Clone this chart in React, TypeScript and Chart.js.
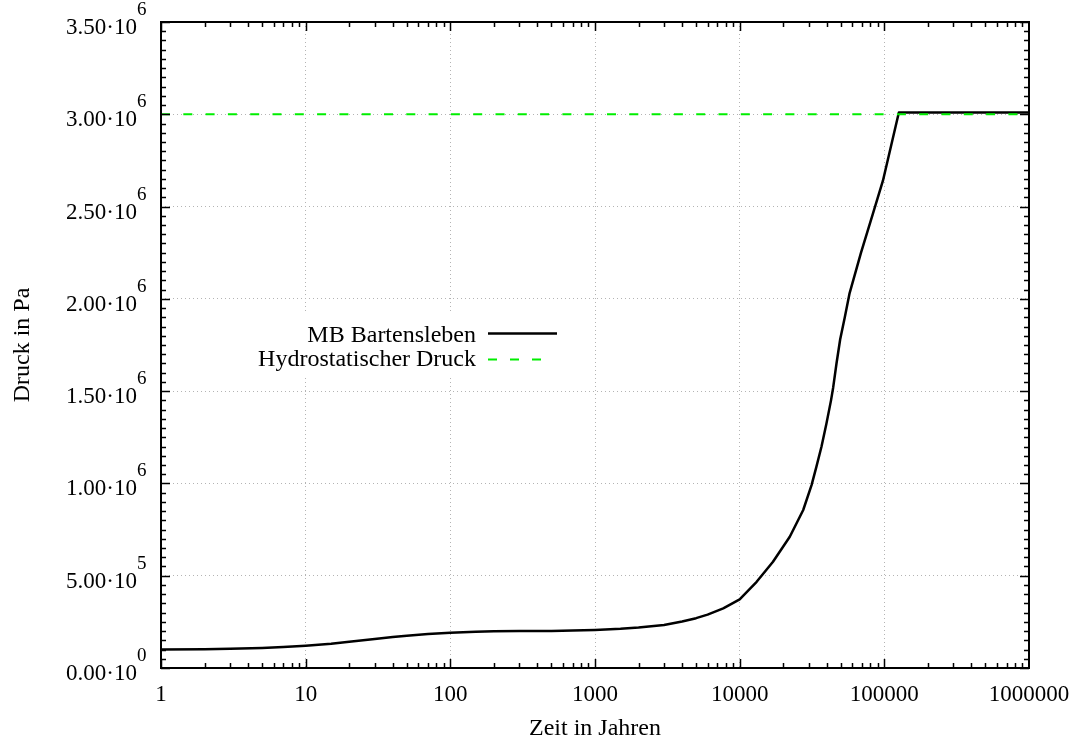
import React, { useEffect, useRef } from 'react';
import { Chart, registerables } from 'chart.js';

Chart.register(...registerables);

// Zeit in Jahren (years)
const years = [1, 2, 3, 5, 7, 10, 15, 20, 30, 40, 50, 70, 100, 150, 200, 300, 500, 700, 1000, 1500, 2000, 3000, 4000, 5000, 6000, 7700, 10000, 13100, 17000, 22200, 27500, 31400, 33900, 36800, 39800, 42800, 44300, 46700, 49500, 53300, 57500, 69000, 83300, 97800, 126000, 1000000];
// MB Bartensleben pressure (Pa)
const pressure = [1.0e5, 1.02e5, 1.04e5, 1.09e5, 1.14e5, 1.21e5, 1.32e5, 1.42e5, 1.57e5, 1.68e5, 1.75e5, 1.84e5, 1.91e5, 1.96e5, 1.99e5, 2.0e5, 2.01e5, 2.03e5, 2.06e5, 2.12e5, 2.19e5, 2.33e5, 2.52e5, 2.7e5, 2.89e5, 3.23e5, 3.72e5, 4.67e5, 5.76e5, 7.11e5, 8.56e5, 9.91e5, 1.09e6, 1.2e6, 1.325e6, 1.45e6, 1.52e6, 1.65e6, 1.78e6, 1.9e6, 2.03e6, 2.25e6, 2.46e6, 2.64e6, 3.01e6, 3.01e6];
// Hydrostatischer Druck
const hydroYears = [1, 1000000];
const hydroPressure = [3.0e6, 3.0e6];

const xTickValues = [1, 10, 100, 1000, 10000, 100000, 1000000];
const xTickLabels = ['1', '10', '100', '1000', '10000', '100000', '1000000'];
const yTickValues = [0, 5e5, 1e6, 1.5e6, 2e6, 2.5e6, 3e6, 3.5e6];
const yTickMantissa = ['0.00', '5.00', '1.00', '1.50', '2.00', '2.50', '3.00', '3.50'];
const yTickExponent = ['0', '5', '6', '6', '6', '6', '6', '6'];

const seriesNames = ['MB Bartensleben', 'Hydrostatischer Druck'];
const xTitle = 'Zeit in Jahren';
const yTitle = 'Druck in Pa';

const FONT = '"Liberation Serif", "Times New Roman", serif';
const GREEN = '#00ee00';

const gnuplotPlugin = {
  id: 'gnuplotFrame',
  beforeDatasetsDraw(chart: any) {
    const ctx = chart.ctx;
    ctx.save();
    ctx.fillStyle = '#ffffff';
    ctx.fillRect(250, 313, 315, 62);
    ctx.restore();
  },
  afterDraw(chart: any) {
    const ctx = chart.ctx as CanvasRenderingContext2D;
    const { left, right, top, bottom } = chart.chartArea;
    const xs = chart.scales.x;
    const ys = chart.scales.y;
    ctx.save();
    ctx.strokeStyle = '#000';
    ctx.lineWidth = 1.5;
    ctx.setLineDash([]);
    ctx.beginPath();
    for (let i = 0; i <= 70; i++) {
      const v = i * 5e4;
      const py = Math.round(ys.getPixelForValue(v)) + 0.5;
      const len = i % 10 === 0 ? 9 : 5;
      ctx.moveTo(left, py); ctx.lineTo(left + len, py);
      ctx.moveTo(right, py); ctx.lineTo(right - len, py);
    }
    for (let d = 1; d < 1e6; d *= 10) {
      for (let k = 1; k <= 9; k++) {
        const v = k * d;
        const px = Math.round(xs.getPixelForValue(v)) + 0.5;
        const len = k === 1 ? 9 : 5;
        ctx.moveTo(px, bottom); ctx.lineTo(px, bottom - len);
        ctx.moveTo(px, top); ctx.lineTo(px, top + len);
      }
    }
    ctx.stroke();
    ctx.lineWidth = 2;
    ctx.strokeRect(left, top, right - left, bottom - top);

    ctx.fillStyle = '#000';
    yTickValues.forEach((v, i) => {
      const py = ys.getPixelForValue(v);
      ctx.font = `23px ${FONT}`;
      ctx.textAlign = 'right';
      ctx.textBaseline = 'alphabetic';
      ctx.fillText(yTickMantissa[i] + '\u00b710', 137, py + 12);
      ctx.font = `19px ${FONT}`;
      ctx.textAlign = 'left';
      ctx.fillText(yTickExponent[i], 137, py - 7);
    });
    ctx.font = `23px ${FONT}`;
    ctx.textAlign = 'center';
    xTickValues.forEach((v, i) => {
      const px = xs.getPixelForValue(v);
      ctx.fillText(xTickLabels[i], px, bottom + 33);
    });
    ctx.font = `24px ${FONT}`;
    ctx.fillText(xTitle, (left + right) / 2, 735);
    ctx.save();
    ctx.translate(28.5, (top + bottom) / 2);
    ctx.rotate(-Math.PI / 2);
    ctx.fillText(yTitle, 0, 0);
    ctx.restore();

    ctx.textAlign = 'right';
    ctx.fillText(seriesNames[0], 476, 341.5);
    ctx.fillText(seriesNames[1], 476, 365.5);
    ctx.lineWidth = 2.5;
    ctx.strokeStyle = '#000';
    ctx.beginPath();
    ctx.moveTo(488, 333.5); ctx.lineTo(557, 333.5);
    ctx.stroke();
    ctx.lineWidth = 2;
    ctx.strokeStyle = GREEN;
    ctx.setLineDash([9, 13]);
    ctx.beginPath();
    ctx.moveTo(488, 359.5); ctx.lineTo(542, 359.5);
    ctx.stroke();
    ctx.restore();
  },
};

export default function App() {
  const ref = useRef<HTMLCanvasElement | null>(null);
  useEffect(() => {
    if (!ref.current) return;
    const chart = new Chart(ref.current, {
      type: 'line',
      data: {
        datasets: [
          {
            label: seriesNames[1],
            data: hydroYears.map((x, i) => ({ x, y: hydroPressure[i] })),
            borderColor: GREEN,
            borderWidth: 2,
            borderDash: [9, 13.3],
            pointRadius: 0,
            fill: false,
          },
          {
            label: seriesNames[0],
            data: years.map((x, i) => ({ x, y: pressure[i] })),
            borderColor: '#000000',
            borderWidth: 2.5,
            borderJoinStyle: 'round',
            pointRadius: 0,
            tension: 0,
            fill: false,
          },
        ],
      },
      options: {
        animation: false,
        responsive: false,
        layout: { padding: { left: 161, right: 48, top: 22, bottom: 72 } },
        plugins: { legend: { display: false }, tooltip: { enabled: false } },
        scales: {
          x: {
            type: 'logarithmic',
            min: 1,
            max: 1000000,
            ticks: { display: false },
            afterBuildTicks: (scale: any) => {
              scale.ticks = xTickValues.map((value) => ({ value }));
            },
            grid: { color: '#b4b4b4', lineWidth: 1, drawTicks: false },
            border: { display: false, dash: [1, 3] },
          },
          y: {
            type: 'linear',
            min: 0,
            max: 3500000,
            ticks: { display: false, stepSize: 500000 },
            afterBuildTicks: (scale: any) => {
              scale.ticks = yTickValues.map((value) => ({ value }));
            },
            grid: { color: '#b4b4b4', lineWidth: 1, drawTicks: false },
            border: { display: false, dash: [1, 3] },
          },
        },
      },
      plugins: [gnuplotPlugin],
    } as any);
    return () => chart.destroy();
  }, []);
  return (
    <div style={{ position: 'absolute', left: 0, top: 0, width: 1077, height: 740, background: '#fff' }}>
      <canvas ref={ref} width={1077} height={740} />
    </div>
  );
}
